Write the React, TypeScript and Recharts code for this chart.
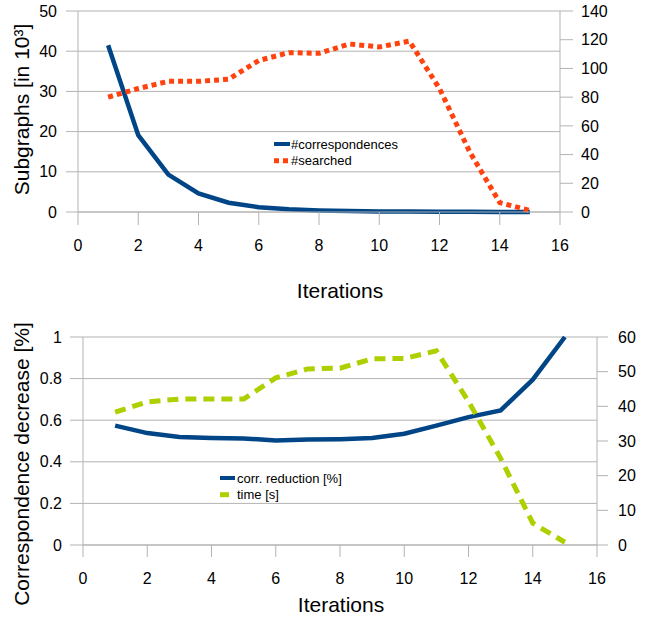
import { LineChart, Line, XAxis, YAxis, CartesianGrid, Label } from 'recharts';

const iterations = [1, 2, 3, 4, 5, 6, 7, 8, 9, 10, 11, 12, 13, 14, 15];
const correspondences = [41.5, 19.1, 9.3, 4.6, 2.3, 1.2, 0.7, 0.4, 0.25, 0.15, 0.1, 0.06, 0.04, 0.02, 0.01];
const searched = [80, 86, 91, 91, 92.5, 105.5, 111, 110.5, 117, 115, 119, 86, 42, 6.5, 1];
const corrReduction = [0.574, 0.538, 0.519, 0.514, 0.512, 0.503, 0.507, 0.509, 0.514, 0.535, 0.574, 0.615, 0.647, 0.795, 1.0];
const timeSec = [38.3, 41.3, 42.1, 42.1, 42.1, 48.2, 50.8, 51, 53.7, 53.8, 56, 41.4, 25, 6.3, 0.8];

const xTicks = [0, 2, 4, 6, 8, 10, 12, 14, 16];
const topLeftTicks = [0, 10, 20, 30, 40, 50];
const topRightTicks = [0, 20, 40, 60, 80, 100, 120, 140];
const bottomLeftTicks = [0, 0.2, 0.4, 0.6, 0.8, 1];
const bottomRightTicks = [0, 10, 20, 30, 40, 50, 60];

const FONT = '"Liberation Sans", Arial, sans-serif';
const GRID = '#b3b3b3';
const BLUE = '#004586';
const RED = '#ff420e';
const GREEN = '#aecf00';

const topData = iterations.map((x, i) => ({ x, corr: correspondences[i], searched: searched[i] }));
const bottomData = iterations.map((x, i) => ({ x, reduction: corrReduction[i], time: timeSec[i] }));

const tickStyle = { fill: '#000', fontSize: 16, fontFamily: FONT };

type LegendItem = { name: string; color: string; dash?: string; len: number };

// legend drawn outside the chart so it does not eat into the plot area
function LegendBox({ items, left, top }: { items: LegendItem[]; left: number; top: number }) {
  return (
    <svg width={150} height={36} style={{ position: 'absolute', left, top, display: 'block' }}>
      {items.map((it, i) => (
        <g key={it.name}>
          <line
            x1={2}
            x2={2 + it.len}
            y1={9 + i * 16.7}
            y2={9 + i * 16.7}
            stroke={it.color}
            strokeWidth={it.dash ? 5 : 4}
            strokeDasharray={it.dash}
          />
          <text x={19} y={9 + i * 16.7} dy="0.35em" fontSize={13} fontFamily={FONT} fill="#000">
            {it.name}
          </text>
        </g>
      ))}
    </svg>
  );
}

function YTitle({ text, cy }: { text: string; cy: number }) {
  return (
    <text
      x={29}
      y={cy}
      transform={`rotate(-90, 29, ${cy})`}
      textAnchor="middle"
      fontSize={21}
      fontFamily={FONT}
      fill="#000"
    >
      {text}
    </text>
  );
}

export default function App() {
  return (
    <div style={{ position: 'absolute', left: 0, top: 0, width: 655, height: 619, background: '#fff' }}>
      <div style={{ position: 'absolute', left: 0, top: 0 }}>
        <LineChart width={655} height={310} data={topData} margin={{ top: 11, right: 0, bottom: 0, left: 0 }}>
          <CartesianGrid yAxisId="left" vertical={false} stroke={GRID} />
          <XAxis
            dataKey="x"
            type="number"
            domain={[0, 16]}
            ticks={xTicks}
            height={98}
            tickSize={13}
            tickMargin={15}
            stroke={GRID}
            tick={tickStyle}
          >
            <Label
              content={({ viewBox }: any) => (
                <text
                  x={viewBox.x + viewBox.width / 2 + 21}
                  y={viewBox.y + 86}
                  textAnchor="middle"
                  fontSize={21}
                  fontFamily={FONT}
                  fill="#000"
                >
                  Iterations
                </text>
              )}
            />
          </XAxis>
          <YAxis
            yAxisId="left"
            width={78}
            domain={[0, 50]}
            ticks={topLeftTicks}
            tickSize={12}
            tickMargin={9}
            stroke={GRID}
            tick={tickStyle}
          >
            <Label content={() => <YTitle text="Subgraphs [in 10³]" cy={109.5} />} />
          </YAxis>
          <YAxis
            yAxisId="right"
            orientation="right"
            width={95}
            domain={[0, 140]}
            ticks={topRightTicks}
            tickSize={13}
            tickMargin={8}
            stroke={GRID}
            tick={tickStyle}
          />
          <Line
            yAxisId="left"
            type="linear"
            dataKey="corr"
            name="#correspondences"
            stroke={BLUE}
            strokeWidth={4.5}
            dot={false}
            isAnimationActive={false}
          />
          <Line
            yAxisId="right"
            type="linear"
            dataKey="searched"
            name="#searched"
            stroke={RED}
            strokeWidth={5}
            strokeDasharray="5 4"
            dot={false}
            isAnimationActive={false}
          />
        </LineChart>
        <LegendBox
          left={272}
          top={135}
          items={[
            { name: '#correspondences', color: BLUE, len: 16 },
            { name: '#searched', color: RED, dash: '5 4', len: 14 },
          ]}
        />
      </div>

      <div style={{ position: 'absolute', left: 0, top: 310 }}>
        <LineChart width={655} height={309} data={bottomData} margin={{ top: 27, right: 0, bottom: 0, left: 0 }}>
          <CartesianGrid yAxisId="left" vertical={false} stroke={GRID} />
          <XAxis
            dataKey="x"
            type="number"
            domain={[0, 16]}
            ticks={xTicks}
            height={74}
            tickSize={12}
            tickMargin={16}
            stroke={GRID}
            tick={tickStyle}
          >
            <Label
              content={({ viewBox }: any) => (
                <text
                  x={viewBox.x + viewBox.width / 2 + 1}
                  y={viewBox.y + 67}
                  textAnchor="middle"
                  fontSize={21}
                  fontFamily={FONT}
                  fill="#000"
                >
                  Iterations
                </text>
              )}
            />
          </XAxis>
          <YAxis
            yAxisId="left"
            width={83}
            domain={[0, 1]}
            ticks={bottomLeftTicks}
            tickSize={13}
            tickMargin={8}
            stroke={GRID}
            tick={tickStyle}
          >
            <Label content={() => <YTitle text="Correspondence decrease [%]" cy={154} />} />
          </YAxis>
          <YAxis
            yAxisId="right"
            orientation="right"
            width={58}
            domain={[0, 60]}
            ticks={bottomRightTicks}
            tickSize={11}
            tickMargin={10}
            stroke={GRID}
            tick={tickStyle}
          />
          <Line
            yAxisId="left"
            type="linear"
            dataKey="reduction"
            name="corr. reduction [%]"
            stroke={BLUE}
            strokeWidth={4.5}
            dot={false}
            isAnimationActive={false}
          />
          <Line
            yAxisId="right"
            type="linear"
            dataKey="time"
            name="time [s]"
            stroke={GREEN}
            strokeWidth={5}
            strokeDasharray="11 7"
            dot={false}
            isAnimationActive={false}
          />
        </LineChart>
        <LegendBox
          left={218}
          top={159}
          items={[
            { name: 'corr. reduction [%]', color: BLUE, len: 15 },
            { name: 'time [s]', color: GREEN, dash: '9 20', len: 9 },
          ]}
        />
      </div>
    </div>
  );
}
